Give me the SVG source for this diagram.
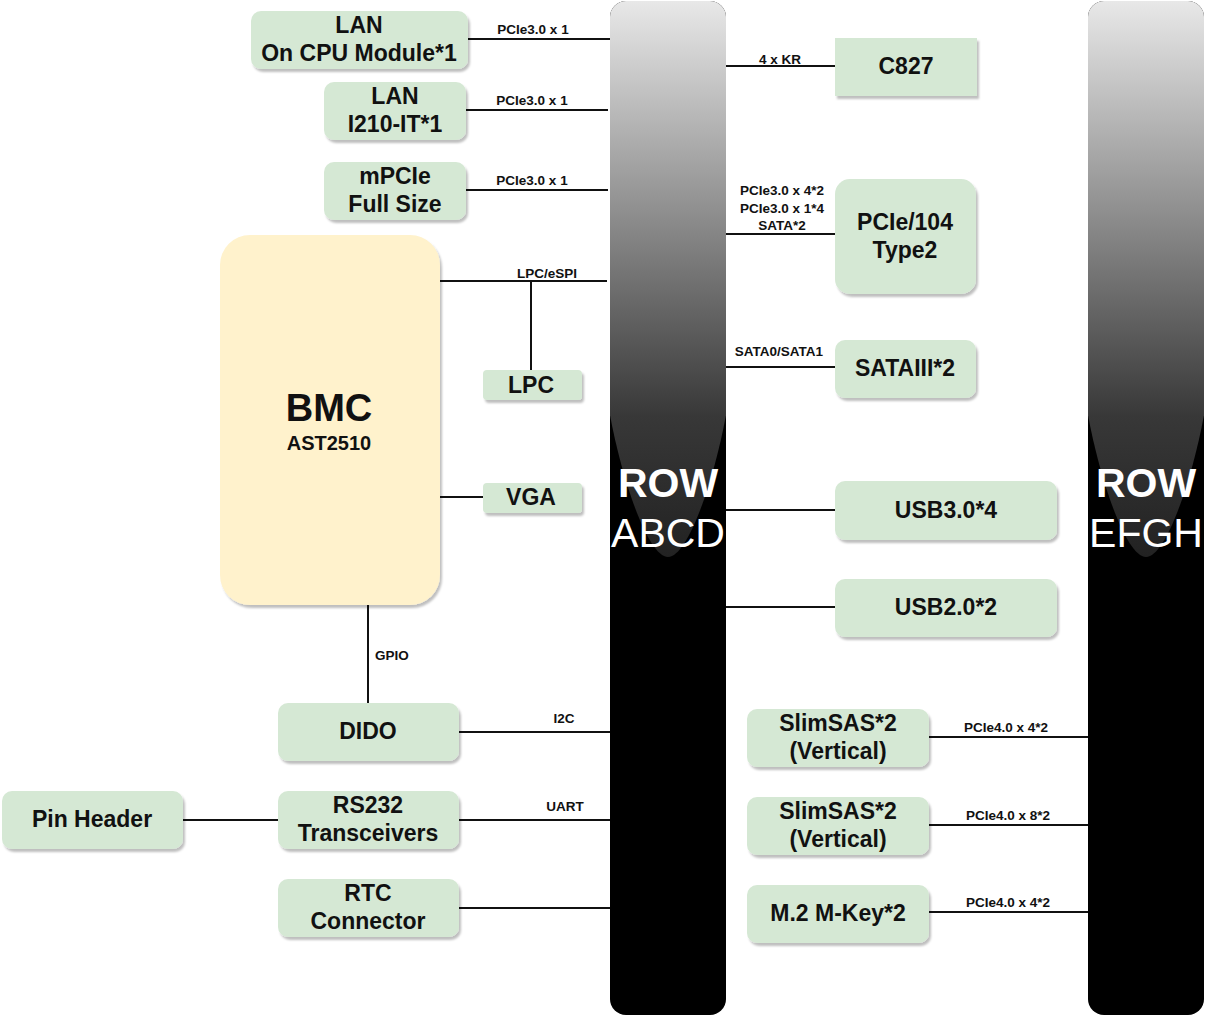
<svg xmlns="http://www.w3.org/2000/svg" width="1207" height="1017" viewBox="0 0 1207 1017">
<defs>
<linearGradient id="barg" x1="0" y1="0" x2="0" y2="1">
<stop offset="0" stop-color="#e8e8e8"/>
<stop offset="1" stop-color="#383838"/>
</linearGradient>
<linearGradient id="tong" x1="0" y1="0" x2="0" y2="1">
<stop offset="0" stop-color="#383838"/>
<stop offset="1" stop-color="#222"/>
</linearGradient>
<filter id="sh" x="-10%" y="-10%" width="130%" height="130%">
<feDropShadow dx="2" dy="3" stdDeviation="1" flood-color="#000" flood-opacity="0.25"/>
</filter>
<clipPath id="cA"><rect x="610" y="1" width="116" height="1014" rx="16"/></clipPath>
<clipPath id="cE"><rect x="1088" y="1" width="116" height="1014" rx="16"/></clipPath>
</defs>
<style>
.n{fill:#d5e8d4;filter:url(#sh)}
.t{font-family:"Liberation Sans",Arial,sans-serif;font-weight:bold;font-size:23px;fill:#111;text-anchor:middle;dominant-baseline:central}
.l{font-family:"Liberation Sans",Arial,sans-serif;font-weight:bold;font-size:13.5px;fill:#111;text-anchor:middle}
.c{stroke:#111;stroke-width:2;fill:none}
.rw{font-family:"Liberation Sans",Arial,sans-serif;font-size:41px;fill:#fff;text-anchor:middle}
</style>
<rect width="1207" height="1017" fill="#fff"/>
<g id="rowABCD">
<g clip-path="url(#cA)">
<rect x="610" y="1" width="116" height="1014" fill="#000"/>
<rect x="610" y="1" width="116" height="415" fill="url(#barg)"/>
<path d="M610,415 C622,480 648,557 668,557 C688,557 714,480 726,415 Z" fill="url(#tong)"/>
</g>
<text class="rw" x="668" y="497" style="font-weight:bold">ROW</text>
<text class="rw" x="668" y="547">ABCD</text>
</g>
<g id="rowEFGH">
<g clip-path="url(#cE)">
<rect x="1088" y="1" width="116" height="1014" fill="#000"/>
<rect x="1088" y="1" width="116" height="415" fill="url(#barg)"/>
<path d="M1088,415 C1100,480 1126,557 1146,557 C1166,557 1192,480 1204,415 Z" fill="url(#tong)"/>
</g>
<text class="rw" x="1146" y="497" style="font-weight:bold">ROW</text>
<text class="rw" x="1146" y="547">EFGH</text>
</g>
<g id="connectors">
<path class="c" d="M468,39H610M466,110H608M466,190H608M440,281H607M531,281V370M440,497H483M368,605V703M459,732H610M183,820H278M459,820H610M459,908H610M726,66H835M726,234H835M726,367H835M726,510H835M726,607H835M929,737H1088M929,825H1088M929,912H1088"/>
<text class="l" x="533" y="34">PCIe3.0 x 1</text>
<text class="l" x="532" y="105">PCIe3.0 x 1</text>
<text class="l" x="532" y="185">PCIe3.0 x 1</text>
<text class="l" x="547" y="278">LPC/eSPI</text>
<text class="l" x="392" y="660">GPIO</text>
<text class="l" x="564" y="723">I2C</text>
<text class="l" x="565" y="811">UART</text>
<text class="l" x="780" y="64">4 x KR</text>
<text class="l" x="782" y="195">PCIe3.0 x 4*2</text>
<text class="l" x="782" y="213">PCIe3.0 x 1*4</text>
<text class="l" x="782" y="230">SATA*2</text>
<text class="l" x="779" y="356">SATA0/SATA1</text>
<text class="l" x="1006" y="732">PCIe4.0 x 4*2</text>
<text class="l" x="1008" y="820">PCIe4.0 x 8*2</text>
<text class="l" x="1008" y="907">PCIe4.0 x 4*2</text>
</g>
<g id="lan1"><rect class="n" x="251" y="11" width="217" height="58" rx="10"/><text class="t" x="359" y="25">LAN</text><text class="t" x="359" y="53">On CPU Module*1</text></g>
<g id="lan2"><rect class="n" x="324" y="82" width="142" height="58" rx="10"/><text class="t" x="395" y="96">LAN</text><text class="t" x="395" y="124">I210-IT*1</text></g>
<g id="mpcie"><rect class="n" x="324" y="162" width="142" height="58" rx="10"/><text class="t" x="395" y="176">mPCIe</text><text class="t" x="395" y="204">Full Size</text></g>
<g id="bmc"><rect x="220" y="235" width="220" height="370" rx="30" fill="#fff2cc" filter="url(#sh)"/><text class="t" x="329" y="408" style="font-size:38px">BMC</text><text class="t" x="329" y="443" style="font-size:20px">AST2510</text></g>
<g id="lpc"><rect class="n" x="483" y="370" width="99" height="30" rx="4"/><text class="t" x="531" y="385">LPC</text></g>
<g id="vga"><rect class="n" x="483" y="483" width="99" height="30" rx="4"/><text class="t" x="531" y="497">VGA</text></g>
<g id="dido"><rect class="n" x="278" y="703" width="181" height="58" rx="10"/><text class="t" x="368" y="731">DIDO</text></g>
<g id="pinheader"><rect class="n" x="2" y="791" width="181" height="58" rx="10"/><text class="t" x="92" y="819">Pin Header</text></g>
<g id="rs232"><rect class="n" x="278" y="791" width="181" height="58" rx="10"/><text class="t" x="368" y="805">RS232</text><text class="t" x="368" y="833">Transceivers</text></g>
<g id="rtc"><rect class="n" x="278" y="879" width="181" height="58" rx="10"/><text class="t" x="368" y="893">RTC</text><text class="t" x="368" y="921">Connector</text></g>
<g id="c827"><rect class="n" x="835" y="38" width="142" height="58"/><text class="t" x="906" y="66">C827</text></g>
<g id="pcie104"><rect class="n" x="835" y="179" width="141" height="115" rx="15"/><text class="t" x="905" y="222">PCIe/104</text><text class="t" x="905" y="250">Type2</text></g>
<g id="sata"><rect class="n" x="835" y="340" width="141" height="58" rx="10"/><text class="t" x="905" y="368">SATAIII*2</text></g>
<g id="usb3"><rect class="n" x="835" y="481" width="222" height="59" rx="10"/><text class="t" x="946" y="510">USB3.0*4</text></g>
<g id="usb2"><rect class="n" x="835" y="579" width="222" height="58" rx="10"/><text class="t" x="946" y="607">USB2.0*2</text></g>
<g id="slimsas1"><rect class="n" x="747" y="709" width="182" height="58" rx="10"/><text class="t" x="838" y="723">SlimSAS*2</text><text class="t" x="838" y="751">(Vertical)</text></g>
<g id="slimsas2"><rect class="n" x="747" y="797" width="182" height="58" rx="10"/><text class="t" x="838" y="811">SlimSAS*2</text><text class="t" x="838" y="839">(Vertical)</text></g>
<g id="m2"><rect class="n" x="747" y="885" width="182" height="58" rx="10"/><text class="t" x="838" y="913">M.2 M-Key*2</text></g>
</svg>
